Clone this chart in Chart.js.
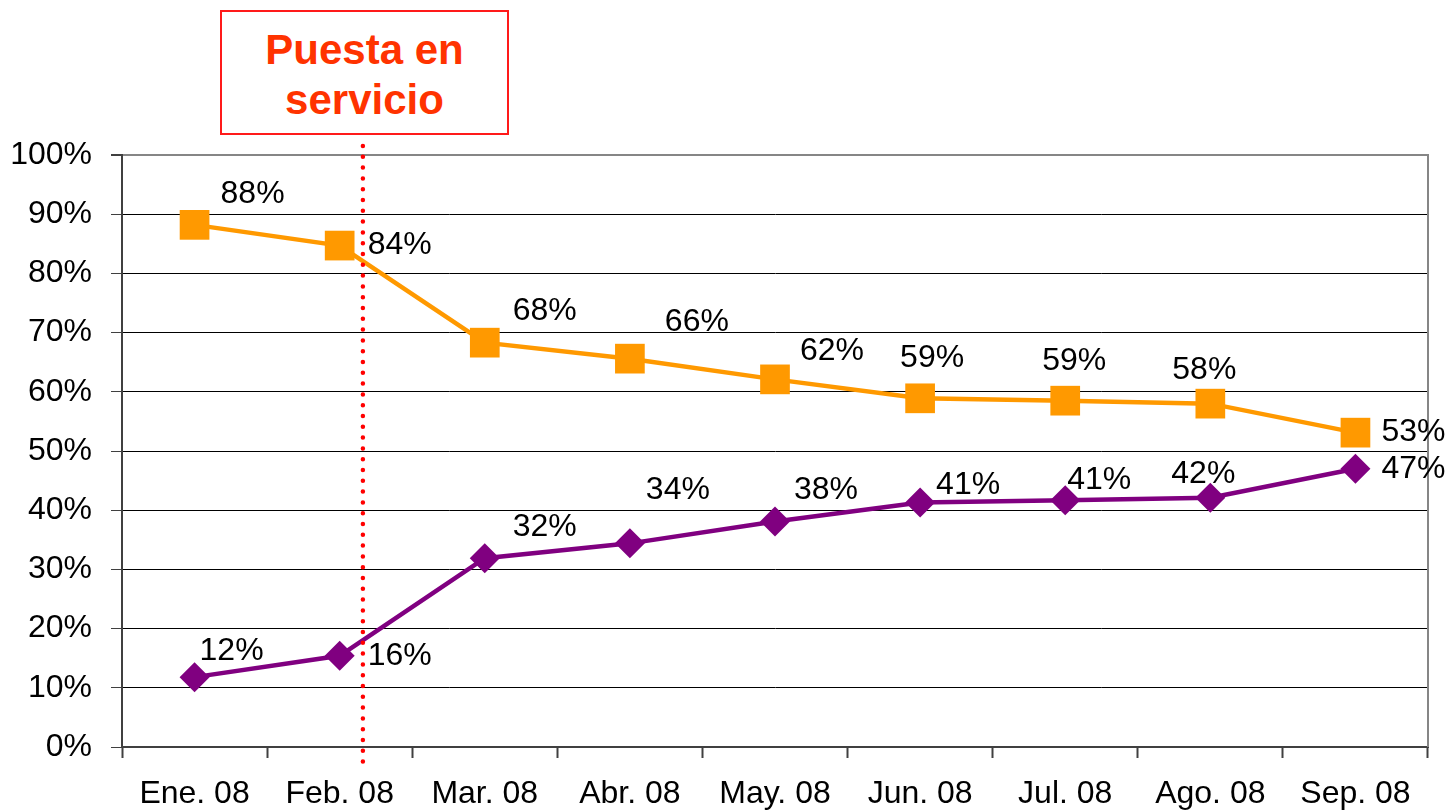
<!DOCTYPE html>
<html>
<head>
<meta charset="utf-8">
<script src="https://cdn.jsdelivr.net/npm/chart.js@4"></script>
<style>
  body { margin: 0; background: #fff; }
  #wrap { position: relative; width: 1450px; height: 811px; }
  #nota {
    position: absolute; left: 220px; top: 10px; width: 285px;
    border: 2px solid #ff1a1a; background: #fff;
    font-family: 'Liberation Sans', Arial, sans-serif; font-weight: bold;
    font-size: 42px; line-height: 50px; color: #ff3300;
    text-align: center; padding-top: 13px; height: 108px;
  }
</style>
</head>
<body>
<div id="wrap">
  <canvas id="chart" width="1450" height="811"></canvas>
  <div id="nota">Puesta en<br>servicio</div>
</div>
<script>
// Datos
const meses = ['Ene. 08', 'Feb. 08', 'Mar. 08', 'Abr. 08', 'May. 08', 'Jun. 08', 'Jul. 08', 'Ago. 08', 'Sep. 08'];
const serieNaranja = [88.2, 84.7, 68.3, 65.6, 62.1, 58.9, 58.5, 58.0, 53.1];
const serieMorada = [11.8, 15.4, 31.9, 34.4, 38.1, 41.3, 41.7, 42.1, 47.0];
const etiquetasNaranja = ['88%', '84%', '68%', '66%', '62%', '59%', '59%', '58%', '53%'];
const etiquetasMorada = ['12%', '16%', '32%', '34%', '38%', '41%', '41%', '42%', '47%'];
const ticksY = [0, 10, 20, 30, 40, 50, 60, 70, 80, 90, 100];
const puestaEnServicio = 1.16; // posicion (indice decimal) de la linea punteada

// Desplazamientos de las etiquetas (px)
const offNaranja = [[58, -31], [60, 0], [60, -31], [67, -36], [57, -28], [12, -40], [9, -40], [-6, -33], [58, 0]];
const offMorada = [[37, -26], [60, 0], [60, -31], [48, -53], [51, -31], [48, -17], [34, -20], [-7, -24], [58, 0]];

const fuente = "'Liberation Sans', Arial, sans-serif";

const extras = {
    id: 'extras',
    afterDraw(chart) {
        const ctx = chart.ctx;
        const area = chart.chartArea;
        const x = chart.scales.x;
        ctx.save();
        // borde derecho gris
        ctx.strokeStyle = '#868686';
        ctx.lineWidth = 2;
        ctx.beginPath();
        ctx.moveTo(area.right, area.top - 1);
        ctx.lineTo(area.right, area.bottom);
        ctx.stroke();
        // linea punteada roja
        const px = x.getPixelForValue(puestaEnServicio);
        ctx.strokeStyle = '#ff0000';
        ctx.lineWidth = 4.5;
        ctx.lineCap = 'round';
        ctx.setLineDash([0, 10.8]);
        ctx.beginPath();
        ctx.moveTo(px, area.top - 9);
        ctx.lineTo(px, area.bottom + 20);
        ctx.stroke();
        ctx.setLineDash([]);
        // etiquetas
        ctx.fillStyle = '#000';
        ctx.font = '32px ' + fuente;
        ctx.textAlign = 'center';
        ctx.textBaseline = 'middle';
        const grupos = [[0, etiquetasNaranja, offNaranja], [1, etiquetasMorada, offMorada]];
        grupos.forEach(([i, textos, offs]) => {
            chart.getDatasetMeta(i).data.forEach((p, j) => {
                ctx.fillText(textos[j], p.x + offs[j][0], p.y + offs[j][1]);
            });
        });
        ctx.restore();
    }
};

new Chart(document.getElementById('chart'), {
    type: 'line',
    data: {
        labels: meses,
        datasets: [{
            data: serieNaranja,
            borderColor: '#ff9900',
            backgroundColor: '#ff9900',
            borderWidth: 4.5,
            pointStyle: 'rect',
            pointRadius: 21,
            pointHoverRadius: 21,
            pointBorderWidth: 0
        }, {
            data: serieMorada,
            borderColor: '#800080',
            backgroundColor: '#800080',
            borderWidth: 4.5,
            pointStyle: 'rectRot',
            pointRadius: 15,
            pointHoverRadius: 15,
            pointBorderWidth: 0
        }]
    },
    options: {
        responsive: false,
        animation: false,
        layout: { padding: { top: 155, right: 22, left: 0, bottom: 0 } },
        plugins: { legend: { display: false }, tooltip: { enabled: false } },
        scales: {
            x: {
                offset: true,
                afterFit: s => { s.height = 64; },
                grid: { offset: true, drawOnChartArea: false, tickLength: 11, tickColor: '#404040', tickWidth: 2 },
                border: { color: '#404040', width: 2 },
                ticks: { color: '#000', padding: 17, font: { family: fuente, size: 32 }, maxRotation: 0 }
            },
            y: {
                min: 0,
                max: 100,
                afterFit: s => { s.width = 122; },
                afterBuildTicks: s => { s.ticks = ticksY.map(v => ({ value: v })); },
                grid: {
                    color: c => c.tick && c.tick.value === 100 ? '#868686' : '#000',
                    lineWidth: c => c.tick && c.tick.value === 100 ? 2 : 1,
                    tickLength: 11,
                    tickColor: '#404040'
                },
                border: { color: '#404040', width: 2 },
                ticks: {
                    color: '#000',
                    padding: 19,
                    font: { family: fuente, size: 32 },
                    callback: v => v + '%'
                }
            }
        }
    },
    plugins: [extras]
});
</script>
</body>
</html>
